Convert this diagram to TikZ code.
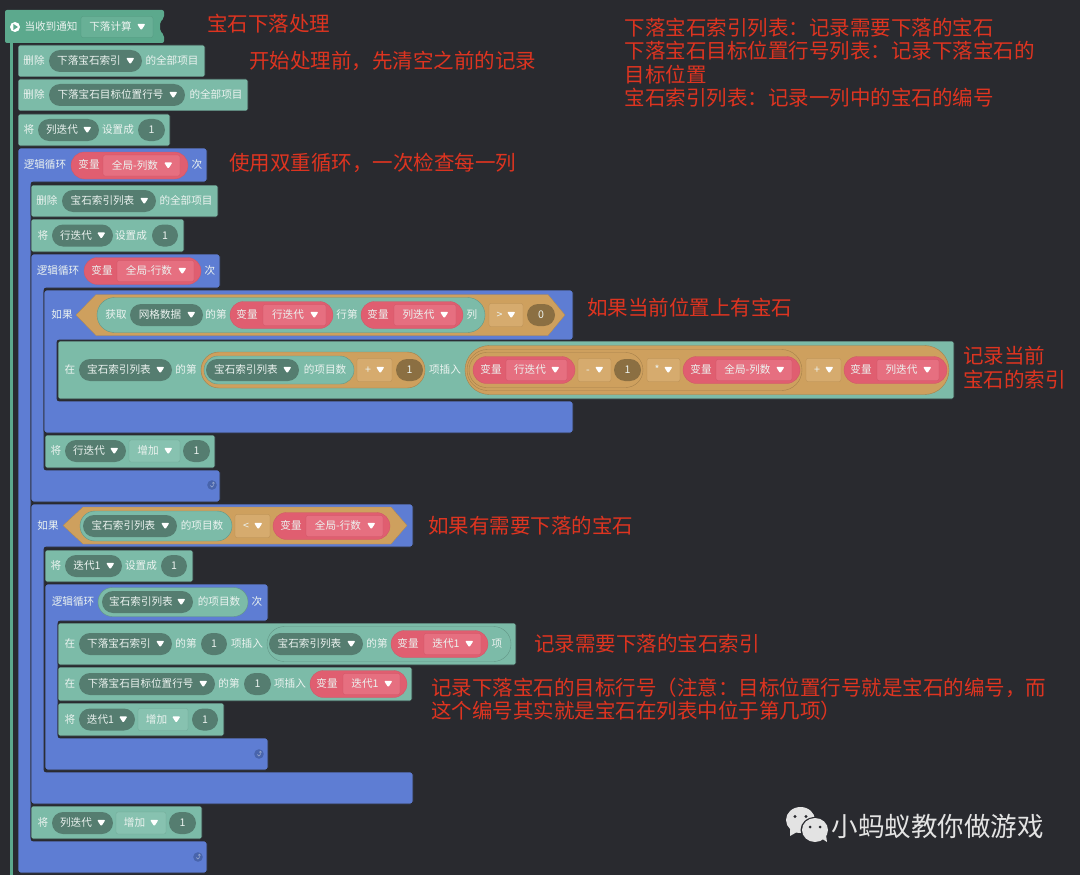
\documentclass[tikz,border=0pt]{standalone}
\usepackage{fontspec}
\setmainfont{Noto Sans CJK SC}
\usetikzlibrary{arrows.meta,positioning}
\definecolor{board}{RGB}{41,42,47}
\definecolor{hatgreen}{RGB}{92,169,141}
\definecolor{hatfield}{RGB}{104,176,150}
\definecolor{stackteal}{RGB}{124,187,168}
\definecolor{fieldteal}{RGB}{135,194,176}
\definecolor{pillteal}{RGB}{85,125,112}
\definecolor{loopblue}{RGB}{94,125,211}
\definecolor{loopdark}{RGB}{72,100,172}
\definecolor{varred}{RGB}{224,94,112}
\definecolor{fieldred}{RGB}{230,111,128}
\definecolor{opsand}{RGB}{206,160,94}
\definecolor{fieldsand}{RGB}{214,171,110}
\definecolor{numbrown}{RGB}{139,111,66}
\definecolor{labelwhite}{RGB}{236,243,240}
\definecolor{notered}{RGB}{222,52,32}
\definecolor{chatgray}{RGB}{227,227,227}
\tikzset{
  span/.style n args={3}{at={({(#1+#2)/2},#3)},minimum width={(#2-#1)*1pt}},
  lbl/.style={font=\fontsize{10.6}{12}\selectfont,text=labelwhite,inner sep=0pt,
    text height=9pt,text depth=1.5pt},
  note/.style={font=\fontsize{20.5}{23.4}\selectfont,text=notered,anchor=west,align=left,inner sep=0pt},
  stack/.style={fill=stackteal,draw=board,line width=0.7pt,rounded corners=2pt},
  loopblock/.style={fill=loopblue,draw=board,line width=0.9pt,rounded corners=2.5pt},
  dropmark/.style={execute at end node={\hspace{13pt}},
    path picture={\fill[white,rounded corners=1.2pt] ([shift={(-16,-3.2)}]path picture bounding box.east)
      -- ++(8.5,0) -- ++(-4.25,6.6) -- cycle;}},
  dd/.style={lbl,dropmark,fill=pillteal,minimum height=22pt,rounded corners=11pt},
  redpill/.style={lbl,fill=varred,draw=varred!92!black,line width=0.3pt,minimum height=27pt,rounded corners=13.5pt},
  redfield/.style={lbl,dropmark,fill=fieldred,draw=varred!92!black,line width=0.3pt,minimum height=21pt,rounded corners=2pt},
  opfield/.style={lbl,dropmark,fill=fieldsand,draw=opsand!90!black,line width=0.3pt,minimum height=23pt,rounded corners=2pt},
  addfield/.style={lbl,dropmark,fill=fieldteal,draw=stackteal!90!black,line width=0.3pt,minimum height=22pt,rounded corners=2pt},
  numpill/.style={lbl,fill=pillteal,minimum height=22pt,rounded corners=11pt},
  brownpill/.style={lbl,fill=numbrown,minimum height=22pt,rounded corners=11pt},
  sandpill/.style={fill=opsand,draw=opsand!80!black,line width=0.4pt,minimum height=#1*1pt,rounded corners={(#1/2)*1pt}},
  tealpill/.style={fill=stackteal,draw=stackteal!80!black,line width=0.4pt,minimum height=#1*1pt,rounded corners={(#1/2)*1pt}},
  hexa/.style={fill=opsand,draw=opsand!85!black,line width=0.3pt},
  % pictograms
  pics/looparrow/.style={code={
    \fill[loopdark] (0,0) circle (4.8);
    \draw[labelwhite!45!loopdark,line width=0.6pt] (-1.6,0.5) arc (180:0:1.5) -- (1.4,-2.6) (0.2,-1.5) -- (1.4,-2.8) -- (2.7,-1.5);
  }},
}
\begin{document}
\begin{tikzpicture}[x=1pt,y=-1pt]
  \useasboundingbox (0,0) rectangle (1080,875);
  \fill[board] (0,0) rectangle (1080,875);
  % hat and its rail
  \fill[hatgreen] (10,40) rectangle (13,875);
  \fill[hatgreen,rounded corners=2pt] (5,10) -- (164,10) -- (164,18) -- (160,22) -- (160,31) -- (164,35) -- (164,43) -- (5,43) -- cycle;
  \node[circle,fill=white,minimum size=10pt,inner sep=0pt] (startdot) at (15,27) {};
  \fill[hatgreen] (13.4,24) -- (18,27) -- (13.4,30) -- cycle;
  \node[lbl] (whenlbl) at (51,27) {当收到通知};
  \node[lbl,dropmark,span={81}{153}{27},fill=hatfield,draw=hatgreen!90!black,line width=0.3pt,minimum height=21pt,rounded corners=2pt] (whenfield) {下落计算};
  % loop blocks, outer to inner
  \filldraw[loopblock] (18,148) -- (207,148) -- (207,182) -- (31,182) -- (31,841) -- (207,841) -- (207,873) -- (18,873) -- cycle;
  \filldraw[loopblock] (31,254) -- (220,254) -- (220,288) -- (44,288) -- (44,470) -- (220,470) -- (220,502) -- (31,502) -- cycle;
  \filldraw[loopblock] (44,290) -- (573,290) -- (573,340) -- (57,340) -- (57,401) -- (573,401) -- (573,433) -- (44,433) -- cycle;
  \filldraw[loopblock] (31,504) -- (413,504) -- (413,547) -- (44,547) -- (44,772) -- (413,772) -- (413,804) -- (31,804) -- cycle;
  \filldraw[loopblock] (45,584) -- (268,584) -- (268,621) -- (58,621) -- (58,738) -- (268,738) -- (268,770) -- (45,770) -- cycle;
  % stack blocks
  \filldraw[stack] (18,45) rectangle (205,77);
  \filldraw[stack] (18,79) rectangle (248,111);
  \filldraw[stack] (18,114) rectangle (170,146);
  \filldraw[stack] (31,185) rectangle (218,217);
  \filldraw[stack] (31,219) rectangle (184,252);
  \filldraw[stack] (58,341) rectangle (954,399);
  \filldraw[stack] (45,435) rectangle (215,468);
  \filldraw[stack] (45,550) rectangle (193,582);
  \filldraw[stack] (58,623) rectangle (516,665);
  \filldraw[stack] (58,667) rectangle (412,701);
  \filldraw[stack] (58,703) rectangle (224,736);
  \filldraw[stack] (31,806) rectangle (202,839);
  % clear lists and reset the column counter
  \node[lbl] (delatxt) at (34,61) {删除};
  \node[dd,span={49}{142}{61}] (dela) {下落宝石索引};
  \node[lbl] (delaend) at (172,61) {的全部项目};
  \node[lbl] (delbtxt) at (34,95) {删除};
  \node[dd,span={49}{185}{95}] (delb) {下落宝石目标位置行号};
  \node[lbl] (delbend) at (216,95) {的全部项目};
  \node[lbl] (colsettxt) at (29,130) {将};
  \node[dd,span={38}{99}{130}] (colset) {列迭代};
  \node[lbl] (colsetend) at (118,130) {设置成};
  \node[numpill,span={138}{165}{130}] (colsetnum) {1};
  % column loop
  \node[lbl] (loopatxt) at (45,165) {逻辑循环};
  \node[redpill,span={71}{188}{165.5}] (loopapill) {};
  \node[lbl] (loopavar) at (89,165) {变量};
  \node[redfield,span={103}{180}{165.5}] (loopafield) {全局-列数};
  \node[lbl] (loopaend) at (197,165) {次};
  \node[lbl] (delctxt) at (47,201) {删除};
  \node[dd,span={62}{156}{201}] (delc) {宝石索引列表};
  \node[lbl] (delcend) at (186,201) {的全部项目};
  \node[lbl] (rowsettxt) at (43,235.5) {将};
  \node[dd,span={52}{113}{235.5}] (rowset) {行迭代};
  \node[lbl] (rowsetend) at (131,235.5) {设置成};
  \node[numpill,span={152}{178}{235.5}] (rowsetnum) {1};
  % row loop
  \node[lbl] (loopbtxt) at (58,271) {逻辑循环};
  \node[redpill,span={84}{201}{271}] (loopbpill) {};
  \node[lbl] (loopbvar) at (102,271) {变量};
  \node[redfield,span={117}{194}{271}] (loopbfield) {全局-行数};
  \node[lbl] (loopbend) at (210,271) {次};
  % first condition
  \node[lbl] (ifatxt) at (62,315) {如果};
  \filldraw[hexa] (76,315) -- (96,294.5) -- (548,294.5) -- (565,315) -- (548,335.5) -- (96,335.5) -- cycle;
  \node[tealpill=35,span={97}{485}{315}] (getpill) {};
  \node[lbl] (gettxt) at (116,315) {获取};
  \node[dd,span={130}{203}{315}] (griddd) {网格数据};
  \node[lbl] (getnth) at (216,315) {的第};
  \node[redpill,span={230}{333}{315}] (getrowpill) {};
  \node[lbl] (getrowvar) at (247,315) {变量};
  \node[redfield,span={263}{326}{315}] (getrowfield) {行迭代};
  \node[lbl] (getrowtxt) at (347,315) {行第};
  \node[redpill,span={361}{463}{315}] (getcolpill) {};
  \node[lbl] (getcolvar) at (378,315) {变量};
  \node[redfield,span={394}{456}{315}] (getcolfield) {列迭代};
  \node[lbl] (getcoltxt) at (472,315) {列};
  \node[opfield,span={489}{523}{315}] (gtop) {>};
  \node[brownpill,span={527}{555}{315}] (zeronum) {0};
  % insert gem index
  \node[lbl] (instxt) at (70,370) {在};
  \node[dd,span={79}{172}{370}] (insdd) {宝石索引列表};
  \node[lbl] (insnth) at (186,370) {的第};
  \node[sandpill=36,span={201}{425}{370}] (inspill) {};
  \node[tealpill=28,span={204}{354}{370}] (inscount) {};
  \node[dd,span={206}{299}{370}] (inscountdd) {宝石索引列表};
  \node[lbl] (inscounttxt) at (325,370) {的项目数};
  \node[opfield,span={357}{392}{370}] (plusop) {+};
  \node[brownpill,span={396}{423}{370}] (plusnum) {1};
  \node[lbl] (insmid) at (445,370) {项插入};
  \node[sandpill=49,span={465}{949}{370}] (sumouter) {};
  \node[sandpill=41,span={467}{802}{370}] (sumtimes) {};
  \node[sandpill=35,span={469}{643}{370}] (summinus) {};
  \node[redpill,span={473}{575}{370}] (rowvarpill) {};
  \node[lbl] (rowvartxt) at (491,370) {变量};
  \node[redfield,span={506}{567}{370}] (rowvarfield) {行迭代};
  \node[opfield,span={578}{611}{370}] (minusop) {-};
  \node[brownpill,span={614}{641}{370}] (minusnum) {1};
  \node[opfield,span={647}{680}{370}] (timesop) {*};
  \node[redpill,span={683}{800}{370}] (allcolpill) {};
  \node[lbl] (allcoltxt) at (701,370) {变量};
  \node[redfield,span={716}{792}{370}] (allcolfield) {全局-列数};
  \node[opfield,span={806}{841}{370}] (sumop) {+};
  \node[redpill,span={844}{947}{370}] (colvarpill) {};
  \node[lbl] (colvartxt) at (861,370) {变量};
  \node[redfield,span={877}{939}{370}] (colvarfield) {列迭代};
  % row counter step
  \node[lbl] (rowaddtxt) at (56,451) {将};
  \node[dd,span={65}{126}{451}] (rowadd) {行迭代};
  \node[addfield,span={129}{180}{451}] (rowaddfield) {增加};
  \node[numpill,span={183}{210}{451}] (rowaddnum) {1};
  \pic at (212,485) {looparrow};
  % second condition
  \node[lbl] (ifbtxt) at (48,526) {如果};
  \filldraw[hexa] (63,525.5) -- (83,507) -- (391,507) -- (407,525.5) -- (391,544) -- (83,544) -- cycle;
  \node[tealpill=30,span={80}{232}{526}] (cntpill) {};
  \node[dd,span={83}{177}{526}] (cntdd) {宝石索引列表};
  \node[lbl] (cnttxt) at (202,526) {的项目数};
  \node[opfield,span={235}{270}{526}] (ltop) {<};
  \node[redpill,span={273}{390}{526}] (allrowpill) {};
  \node[lbl] (allrowtxt) at (291,526) {变量};
  \node[redfield,span={306}{383}{526}] (allrowfield) {全局-行数};
  \node[lbl] (itersettxt) at (56,566) {将};
  \node[dd,span={65}{122}{566}] (iterset) {迭代1};
  \node[lbl] (itersetend) at (141,566) {设置成};
  \node[numpill,span={161}{187}{566}] (itersetnum) {1};
  % inner loop
  \node[lbl] (loopctxt) at (73,602) {逻辑循环};
  \node[tealpill=29,span={98}{248}{602}] (loopcpill) {};
  \node[dd,span={102}{193}{602}] (loopcdd) {宝石索引列表};
  \node[lbl] (loopccnt) at (219,602) {的项目数};
  \node[lbl] (loopcend) at (257,602) {次};
  \node[lbl] (insatxt) at (70,644) {在};
  \node[dd,span={79}{172}{644}] (insadd) {下落宝石索引};
  \node[lbl] (insanth) at (186,644) {的第};
  \node[numpill,span={201}{227}{644}] (insanum) {1};
  \node[lbl] (insamid) at (247,644) {项插入};
  \node[tealpill=35,span={267}{511}{644}] (insapill) {};
  \node[dd,span={269}{363}{644}] (insapd) {宝石索引列表};
  \node[lbl] (insath) at (377,644) {的第};
  \node[redpill,span={391}{488}{644}] (insavar) {};
  \node[lbl] (insavartxt) at (408,644) {变量};
  \node[redfield,span={424}{481}{644}] (insafield) {迭代1};
  \node[lbl] (insaend) at (497,644) {项};
  \node[lbl] (insbtxt) at (70,684) {在};
  \node[dd,span={79}{215}{684}] (insbdd) {下落宝石目标位置行号};
  \node[lbl] (insbnth) at (229,684) {的第};
  \node[numpill,span={244}{271}{684}] (insbnum) {1};
  \node[lbl] (insbmid) at (290,684) {项插入};
  \node[redpill,span={310}{407}{684}] (insbvar) {};
  \node[lbl] (insbvartxt) at (327,684) {变量};
  \node[redfield,span={343}{400}{684}] (insbfield) {迭代1};
  \node[lbl] (iteraddtxt) at (70,719.5) {将};
  \node[dd,span={79}{135}{719.5}] (iteradd) {迭代1};
  \node[addfield,span={138}{188}{719.5}] (iteraddfield) {增加};
  \node[numpill,span={192}{218}{719.5}] (iteraddnum) {1};
  \pic at (259,754) {looparrow};
  % column counter step
  \node[lbl] (coladdtxt) at (43,823) {将};
  \node[dd,span={52}{113}{823}] (coladd) {列迭代};
  \node[addfield,span={116}{166}{823}] (coladdfield) {增加};
  \node[numpill,span={169}{196}{823}] (coladdnum) {1};
  \pic at (198,857) {looparrow};
  % notes
  \node[note] (noteh) at (207,23.5) {宝石下落处理};
  \node[note] (notea) at (249,60.5) {开始处理前，先清空之前的记录};
  \node[note] (noteb) at (229,162.5) {使用双重循环，一次检查每一列};
  \node[note] (notec) at (587,307.5) {如果当前位置上有宝石};
  \node[note] (noted) at (963,367.5) {记录当前\\宝石的索引};
  \node[note] (notee) at (428,525.5) {如果有需要下落的宝石};
  \node[note] (notef) at (534,643.5) {记录需要下落的宝石索引};
  \node[note] (noteg) at (431,699.5) {记录下落宝石的目标行号（注意：目标位置行号就是宝石的编号，而\\这个编号其实就是宝石在列表中位于第几项）};
  \node[note] (notelist) at (624.5,62.5) {下落宝石索引列表：记录需要下落的宝石\\下落宝石目标位置行号列表：记录下落宝石的\\目标位置\\宝石索引列表：记录一列中的宝石的编号};
  % watermark
  \fill[chatgray] (800.5,820) ellipse (14.5 and 13);
  \fill[chatgray] (790,829) -- (790,836) -- (797,832) -- cycle;
  \fill[board] (815,830) ellipse (14.5 and 13);
  \fill[chatgray] (815,830) ellipse (13 and 12);
  \fill[chatgray] (821,838) -- (827,842) -- (826,835) -- cycle;
  \fill[board] (795,816.5) circle (1.7) (806,816.5) circle (1.7) (810,827) circle (1.5) (820,827) circle (1.5);
  \node[font=\fontsize{26.5}{30}\selectfont,text=chatgray,inner sep=0pt] (brand) at (937.5,826) {小蚂蚁教你做游戏};
\end{tikzpicture}
\end{document}
